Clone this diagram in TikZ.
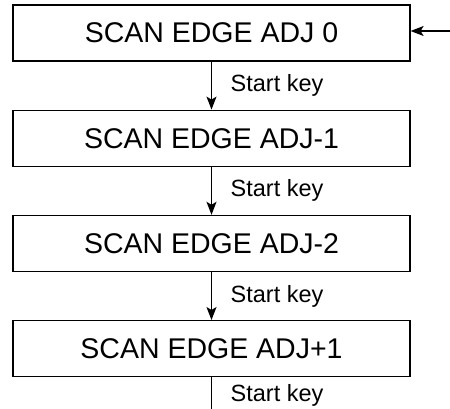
\documentclass[tikz,border=0pt]{standalone}
\usepackage{fontspec}
\setmainfont{Liberation Sans}
\usetikzlibrary{arrows.meta, positioning, calc}

\begin{document}
\begin{tikzpicture}[
    x=1pt, y=1pt,
    node distance=48pt,
    scanbox/.style={draw, line width=1.2pt, minimum width=397pt, minimum height=56pt, inner sep=0pt, text centered, font=\fontsize{28.5}{30}\selectfont},
    keylabel/.style={anchor=west, inner sep=0pt, font=\fontsize{23.5}{25}\selectfont},
    arr/.style={-{Stealth[length=13pt, width=10pt, inset=3pt]}, line width=1.2pt},
]
\useasboundingbox (0,0) rectangle (450,-409);

% Scan steps
\node[scanbox] (adj0) at (211.5,-33) {SCAN EDGE ADJ 0};
\node[scanbox, below=of adj0] (adjm1) {SCAN EDGE ADJ-1};
\node[scanbox, below=of adjm1] (adjm2) {SCAN EDGE ADJ-2};
\node[scanbox, below=of adjm2] (adjp1) {SCAN EDGE ADJ+1};

% Entry arrow
\coordinate (entry) at (450,-31);
\draw[arr] (entry) -- (entry -| adj0.east);

% Arrows between steps
\foreach \a/\b in {adj0/adjm1, adjm1/adjm2, adjm2/adjp1} {
    \draw[arr] (\a.south) -- (\b.north);
    \node[keylabel] at ($(\a.south)!0.5!(\b.north)+(19,0)$) {Start key};
}

% Exit line
\coordinate (exit) at ($(adjp1.south)+(0,-36)$);
\draw[line width=1.2pt] (adjp1.south) -- (exit);
\node[keylabel] at ($(adjp1.south)+(19,-18)$) (lastkey) {Start key};

\end{tikzpicture}
\end{document}
